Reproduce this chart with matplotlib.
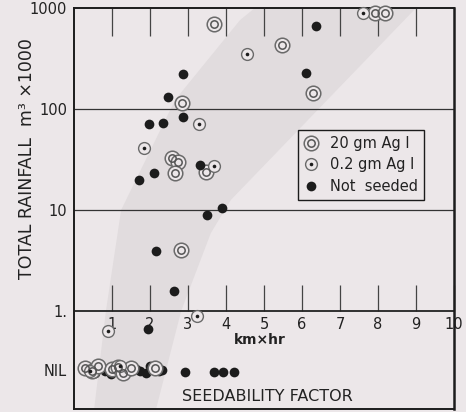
import numpy as np
import matplotlib
matplotlib.use("Agg")
import matplotlib.pyplot as plt
from matplotlib.lines import Line2D
from matplotlib.legend_handler import HandlerTuple

# ---------------- data ----------------
seed20_x = [3.68, 2.84, 2.58, 2.74, 3.47, 2.66, 2.82, 7.92, 8.18, 5.47, 6.29]
seed20_y = [690, 114, 33, 30, 24, 23, 4.0, 890, 890, 430, 144]

seed02_x = [3.29, 1.84, 3.68, 0.89, 3.24, 7.60, 4.55]
seed02_y = [71, 41, 27, 0.63, 0.89, 890, 350]

ns_x = [2.87, 2.47, 2.87, 1.97, 2.34, 3.32, 2.10, 1.71, 3.89, 3.50, 2.16, 2.63, 1.95, 6.37, 6.10]
ns_y = [222, 131, 84, 71, 73, 28, 23, 20, 10.5, 8.9, 3.9, 1.58, 0.66, 660, 228]

# "NIL" rainfall cases (plotted on the NIL row)
nil20_x = [0.29, 0.47, 0.63, 1.00, 1.16, 1.29, 1.50, 2.13]
nil20_y = [0.275, 0.255, 0.285, 0.265, 0.28, 0.245, 0.27, 0.27]
nilns_x = [0.55, 0.74, 0.82, 0.97, 1.39, 1.47, 1.63, 1.74, 1.89, 2.00, 2.08, 2.24, 2.32,
           2.92, 3.68, 3.92, 4.21]
nilns_y = [0.245, 0.28, 0.255, 0.235, 0.28, 0.255, 0.265, 0.255, 0.245, 0.285, 0.265,
           0.255, 0.26, 0.25, 0.25, 0.25, 0.25]
nil02_x = [0.42, 1.21]
nil02_y = [0.255, 0.285]

# shaded band (left edge bottom->top, then right edge top->bottom)
band_x = [0.53, 0.84, 1.24, 2.66, 4.37, 4.76, 9.00, 4.13, 3.60, 2.82, 2.16]
band_y = [0.107, 1, 10, 123, 760, 1000, 1000, 12.6, 5.9, 1, 0.107]

ytick_vals = [1000, 100, 10, 1, 0.26]
ytick_labels = ["1000", "100", "10", "1.", "NIL"]
xtick_vals = [1, 2, 3, 4, 5, 6, 7, 8, 9, 10]
xtick_labels = ["1", "2", "3", "4", "5", "6", "7", "8", "9", "10"]
grid_levels = [10, 100]
legend_labels = ["20 gm Ag I", "0.2 gm Ag I", "Not  seeded"]

# ---------------- figure ----------------
BG = "#ece7e9"
INK = "#1c1c1c"
RING = "#6a6a6a"

fig = plt.figure(figsize=(4.66, 4.12), dpi=100, facecolor=BG)
ax = fig.add_axes([74/466, 3/412, 380/466, 401/412], facecolor=BG)
ax.set_yscale("log")
ymin, ymax = 0.107, 1000
ax.set_xlim(0, 10)
ax.set_ylim(ymin, ymax)

ax.fill(band_x, band_y, color="#e1dcde", lw=0, zorder=0)

for lv in grid_levels:
    ax.axhline(lv, color="#333333", lw=0.9, zorder=1)
ax.axhline(1, color="#222222", lw=1.3, zorder=1)

for s in ax.spines.values():
    s.set_linewidth(1.4)
    s.set_color(INK)
ax.spines["right"].set_linewidth(1.8)

# y ticks
ax.set_yticks(ytick_vals)
ax.set_yticklabels(ytick_labels)
ax.yaxis.set_minor_locator(matplotlib.ticker.NullLocator())
ax.tick_params(axis="y", length=0, pad=5, labelsize=10.5, labelcolor="#222222")

# top ticks
ax.set_xticks(xtick_vals[:-1])
ax.tick_params(axis="x", top=True, bottom=False, labelbottom=False, labeltop=False,
               direction="in", length=20, width=0.9, color="#444444")

# secondary axis on the "1" line with tick labels below it
loc = (np.log10(1) - np.log10(ymin)) / (np.log10(ymax) - np.log10(ymin))
sec = ax.secondary_xaxis(loc)
sec.set_xticks(xtick_vals)
sec.set_xticklabels(xtick_labels)
sec.spines["bottom"].set_visible(False)
sec.tick_params(axis="x", direction="in", length=19, width=0.9, color="#444444",
                labelsize=10.5, pad=4, labelcolor="#222222")

# markers
mk = dict(linestyle="none", clip_on=False)
def plot20(x, y):
    ax.plot(x, y, marker="o", ms=10.5, mfc=BG, mec=RING, mew=1.1, zorder=3, **mk)
    ax.plot(x, y, marker="o", ms=5.3, mfc="none", mec="#555555", mew=1.1, zorder=4, **mk)
def plot02(x, y):
    ax.plot(x, y, marker="o", ms=8.5, mfc=BG, mec=RING, mew=1.0, zorder=3, **mk)
    ax.plot(x, y, marker="o", ms=2.6, mfc=INK, mec=INK, mew=0, zorder=4, **mk)
def plotns(x, y):
    ax.plot(x, y, marker="o", ms=7, mfc=INK, mec=INK, mew=0, zorder=3, **mk)

plot20(seed20_x, seed20_y)
plot02(seed02_x, seed02_y)
plotns(ns_x, ns_y)
plotns(nilns_x, nilns_y)
plot20(nil20_x, nil20_y)
plot02(nil02_x, nil02_y)

# legend
h20 = (Line2D([], [], marker="o", ms=10.5, mfc=BG, mec=RING, mew=1.1, ls="none"),
       Line2D([], [], marker="o", ms=5.3, mfc="none", mec="#555555", mew=1.1, ls="none"))
h02 = (Line2D([], [], marker="o", ms=8.5, mfc=BG, mec=RING, mew=1.0, ls="none"),
       Line2D([], [], marker="o", ms=2.6, mfc=INK, mec=INK, mew=0, ls="none"))
hns = Line2D([], [], marker="o", ms=7, mfc=INK, mec=INK, mew=0, ls="none")
leg = ax.legend([h20, h02, hns], legend_labels,
                handler_map={tuple: HandlerTuple(ndivide=1)},
                loc="upper left", bbox_to_anchor=(0.589, 0.696), borderaxespad=0,
                fontsize=10.5, frameon=True, fancybox=False, framealpha=1,
                facecolor=BG, edgecolor=INK, handlelength=1.0, handletextpad=0.8,
                labelspacing=0.45, borderpad=0.4)
leg.get_frame().set_linewidth(1.0)
for t in leg.get_texts():
    t.set_color("#222222")

# texts
ax.text(0.49, 0.172, "km×hr", transform=ax.transAxes, ha="center", va="center",
        fontsize=10, fontweight="bold", color="#222222")
ax.text(0.51, 0.03, "SEEDABILITY FACTOR", transform=ax.transAxes, ha="center",
        va="center", fontsize=11.5, color="#222222")
fig.text(27/466, 1 - 159/412, "TOTAL RAINFALL  m³ ×1000", rotation=90,
         ha="center", va="center", fontsize=12.5, color="#222222")

fig.savefig("out.png", dpi=100, facecolor=BG)
